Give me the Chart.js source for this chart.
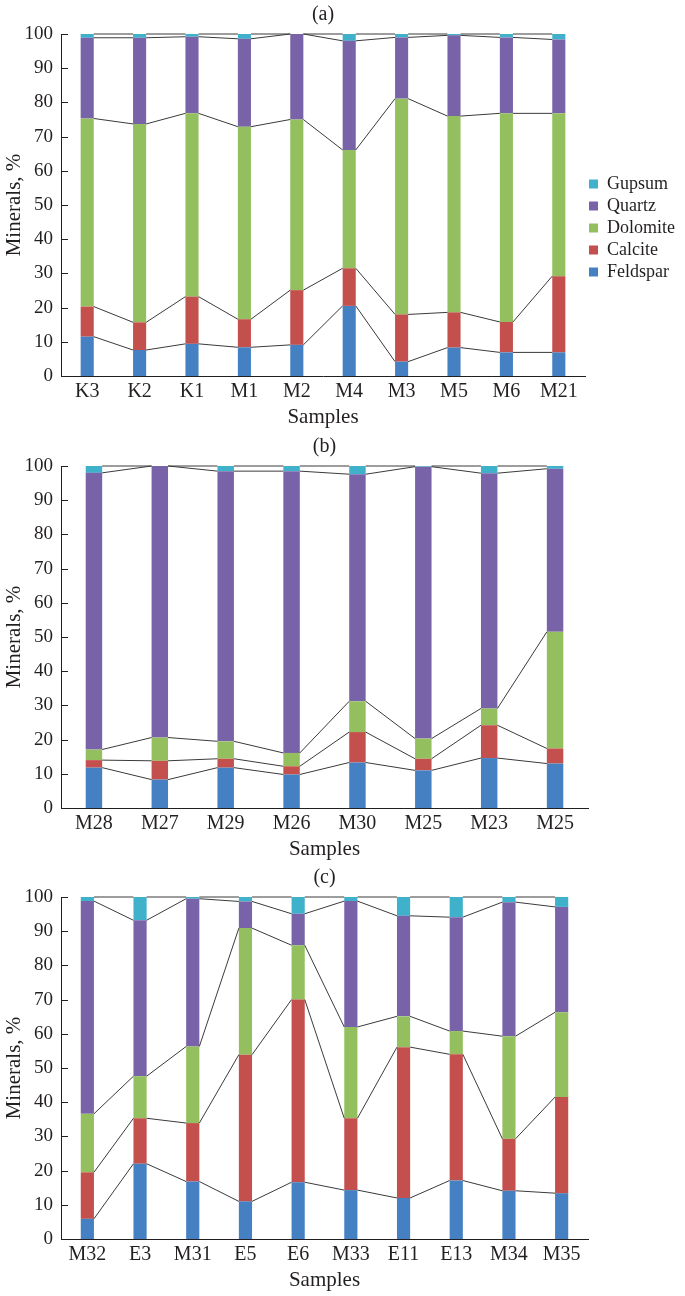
<!DOCTYPE html>
<html>
<head>
<meta charset="utf-8">
<script src="https://cdn.jsdelivr.net/npm/chart.js@4.4.0/dist/chart.umd.min.js"></script>
<style>
  html, body { margin: 0; padding: 0; background: #fff; }
  body { width: 685px; height: 1296px; position: relative; overflow: hidden; }
  .panel { position: absolute; left: 0; width: 685px; height: 430px; }
</style>
</head>
<body>
<div class="panel" style="top:0px"><canvas id="chartA"></canvas></div>
<div class="panel" style="top:432px"><canvas id="chartB"></canvas></div>
<div class="panel" style="top:863px"><canvas id="chartC"></canvas></div>
<script>
// ---- data ----
const minerals = ["Feldspar", "Calcite", "Dolomite", "Quartz", "Gupsum"];
const mineralColors = ["#4581c2", "#c4504e", "#93bf5e", "#7863a9", "#3fb1cb"];
const yTicks = [0, 10, 20, 30, 40, 50, 60, 70, 80, 90, 100];

// (a)
const samplesA = ["K3", "K2", "K1", "M1", "M2", "M4", "M3", "M5", "M6", "M21"];
const feldsparA = [11.5, 7.6, 9.4, 8.4, 9.1, 20.5, 4.2, 8.3, 6.9, 6.9];
const calciteA = [8.8, 8.1, 13.8, 8.2, 16.0, 11.0, 13.8, 10.3, 8.9, 22.3];
const dolomiteA = [55.0, 58.0, 53.6, 56.3, 49.9, 34.6, 63.1, 57.4, 61.0, 47.6];
const quartzA = [23.6, 25.2, 22.4, 25.7, 25.0, 31.9, 17.9, 23.6, 22.2, 21.6];
const gupsumA = [1.1, 1.1, 0.8, 1.4, 0.0, 2.0, 1.0, 0.4, 1.0, 1.6];

// (b)
const samplesB = ["M28", "M27", "M29", "M26", "M30", "M25", "M23", "M25"];
const feldsparB = [11.8, 8.3, 11.8, 9.8, 13.3, 11.0, 14.6, 13.0];
const calciteB = [2.2, 5.5, 2.6, 2.4, 8.9, 3.4, 9.6, 4.4];
const dolomiteB = [3.1, 6.8, 5.1, 3.9, 9.0, 5.9, 4.9, 34.1];
const quartzB = [80.9, 79.4, 79.0, 82.4, 66.4, 79.5, 68.8, 47.7];
const gupsumB = [2.0, 0.0, 1.5, 1.5, 2.4, 0.2, 2.1, 0.8];

// (c)
const samplesC = ["M32", "E3", "M31", "E5", "E6", "M33", "E11", "E13", "M34", "M35"];
const feldsparC = [5.9, 22.0, 16.8, 11.0, 16.6, 14.3, 12.0, 17.1, 14.1, 13.4];
const calciteC = [13.6, 13.3, 17.1, 42.9, 53.4, 21.0, 44.1, 36.9, 15.2, 28.1];
const dolomiteC = [17.1, 12.3, 22.4, 37.0, 15.9, 26.7, 9.0, 6.8, 30.0, 24.8];
const quartzC = [62.2, 45.6, 43.2, 7.8, 9.2, 36.8, 29.4, 33.3, 39.2, 30.8];
const gupsumC = [1.2, 6.8, 0.5, 1.3, 4.9, 1.2, 5.5, 5.9, 1.5, 2.9];

const FONT = "'Liberation Serif', 'Times New Roman', serif";
const INK = "#231f20";

// series lines between stacked bars + inward y ticks
const seriesLines = {
  id: "seriesLines",
  afterDatasetsDraw(chart) {
    const ctx = chart.ctx;
    ctx.save();
    ctx.strokeStyle = "#3a3a3a";
    ctx.lineWidth = 1;
    chart.data.datasets.forEach((ds, d) => {
      const bars = chart.getDatasetMeta(d).data;
      ctx.beginPath();
      for (let i = 0; i < bars.length - 1; i++) {
        const a = bars[i], b = bars[i + 1];
        ctx.moveTo(a.x + a.width / 2, a.y);
        ctx.lineTo(b.x - b.width / 2, b.y);
      }
      ctx.stroke();
    });
    const y = chart.scales.y;
    ctx.strokeStyle = INK;
    ctx.beginPath();
    y.ticks.forEach((t, i) => {
      const py = Math.round(y.getPixelForTick(i)) + 0.5;
      ctx.moveTo(y.right, py);
      ctx.lineTo(y.right + 7, py);
    });
    ctx.stroke();
    ctx.restore();
  }
};

function makeChart(id, letter, labels, values, withLegend) {
  new Chart(document.getElementById(id), {
    type: "bar",
    data: {
      labels: labels,
      datasets: minerals.map((m, k) => ({
        label: m,
        data: values[k],
        backgroundColor: mineralColors[k],
        borderWidth: 0,
        categoryPercentage: 1,
        barPercentage: 0.25
      }))
    },
    options: {
      responsive: true,
      maintainAspectRatio: false,
      animation: false,
      layout: { padding: { left: 0, right: withLegend ? 0 : 97, top: 0, bottom: 0 } },
      plugins: {
        title: {
          display: true,
          text: letter,
          fullSize: false,
          color: INK,
          font: { family: FONT, size: 20, weight: "normal" },
          padding: { top: 3, bottom: 7 }
        },
        legend: {
          display: withLegend,
          position: "right",
          reverse: true,
          title: { display: true, text: " ", font: { size: 10 }, padding: 7 },
          labels: {
            boxWidth: 9,
            boxHeight: 9,
            padding: 4,
            color: INK,
            font: { family: FONT, size: 18 }
          }
        },
        tooltip: { enabled: false }
      },
      scales: {
        x: {
          stacked: true,
          grid: { display: false, drawTicks: false },
          border: { display: true, color: INK, width: 1 },
          ticks: { color: INK, padding: 4, font: { family: FONT, size: 20 }, maxRotation: 0, autoSkip: false },
          title: {
            display: true,
            text: "Samples",
            color: INK,
            font: { family: FONT, size: 21 },
            padding: { top: 0, bottom: 0 }
          },
          afterFit: (s) => { s.height = 54; }
        },
        y: {
          stacked: true,
          min: 0,
          max: 100,
          afterBuildTicks: (s) => { s.ticks = yTicks.map(v => ({ value: v })); },
          grid: { display: false, drawTicks: false },
          border: { display: true, color: INK, width: 1 },
          ticks: { color: INK, padding: 8, font: { family: FONT, size: 19 } },
          title: {
            display: true,
            text: "Minerals, %",
            color: INK,
            font: { family: FONT, size: 21 },
            padding: { top: 2, bottom: 0 }
          },
          afterFit: (s) => { s.width = 61; }
        }
      }
    },
    plugins: [seriesLines]
  });
}

makeChart("chartA", "(a)", samplesA, [feldsparA, calciteA, dolomiteA, quartzA, gupsumA], true);
makeChart("chartB", "(b)", samplesB, [feldsparB, calciteB, dolomiteB, quartzB, gupsumB], false);
makeChart("chartC", "(c)", samplesC, [feldsparC, calciteC, dolomiteC, quartzC, gupsumC], false);
</script>
</body>
</html>
